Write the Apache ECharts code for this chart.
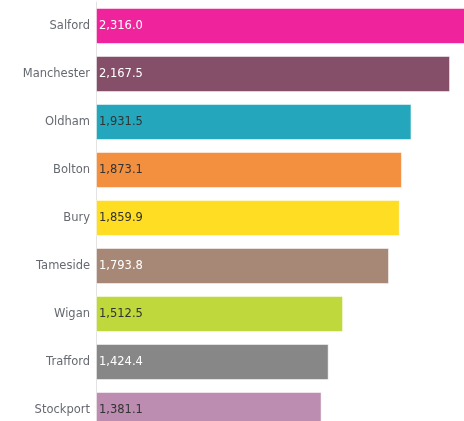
<!DOCTYPE html>
<html><head><meta charset="utf-8">
<script src="https://cdn.jsdelivr.net/npm/echarts@6/dist/echarts.min.js"></script>
<style>html,body{margin:0;padding:0;background:#fff;overflow:hidden;width:464px;height:421px;}#c{width:488px;height:434px;}</style>
</head><body><div id="c"></div>
<script>
const categories = ['Salford','Manchester','Oldham','Bolton','Bury','Tameside','Wigan','Trafford','Stockport'];
const values = [2316.0, 2167.5, 1931.5, 1873.1, 1859.9, 1793.8, 1512.5, 1424.4, 1381.1];
const colors = ['#ef249c','#854f6a','#24a7bc','#f29040','#ffdd22','#a78876','#bfd83b','#878787','#bc8db0'];
const labelColors = ['#ffffff','#ffffff','#333333','#333333','#333333','#ffffff','#333333','#ffffff','#333333'];

const fmt = v => v.toLocaleString('en-US',{minimumFractionDigits:1,maximumFractionDigits:1});

const chart = echarts.init(document.getElementById('c'));
chart.setOption({
  animation:false,
  grid:{left:96, right:0, top:2, bottom:0, containLabel:false},
  xAxis:{type:'value', min:0, max:2400, show:false},
  yAxis:{type:'category', data:categories, inverse:true,
    axisLine:{show:true, lineStyle:{color:'#e3e3e3', width:1}},
    axisTick:{show:false},
    axisLabel:{color:'#666a70', fontSize:11.5, fontFamily:'DejaVu Sans, sans-serif', margin:6}
  },
  series:[{
    type:'bar',
    barCategoryGap:'25%',
    data: values.map((v,i)=>({value:v,
      itemStyle:{color:colors[i], borderColor:'rgba(255,255,255,0.5)', borderWidth:1},
      label:{color:labelColors[i]}})),
    label:{show:true, position:'insideLeft', distance:3, fontSize:11.5, fontFamily:'DejaVu Sans, sans-serif',
      formatter:p=>fmt(p.value)}
  }]
});
</script></body></html>
